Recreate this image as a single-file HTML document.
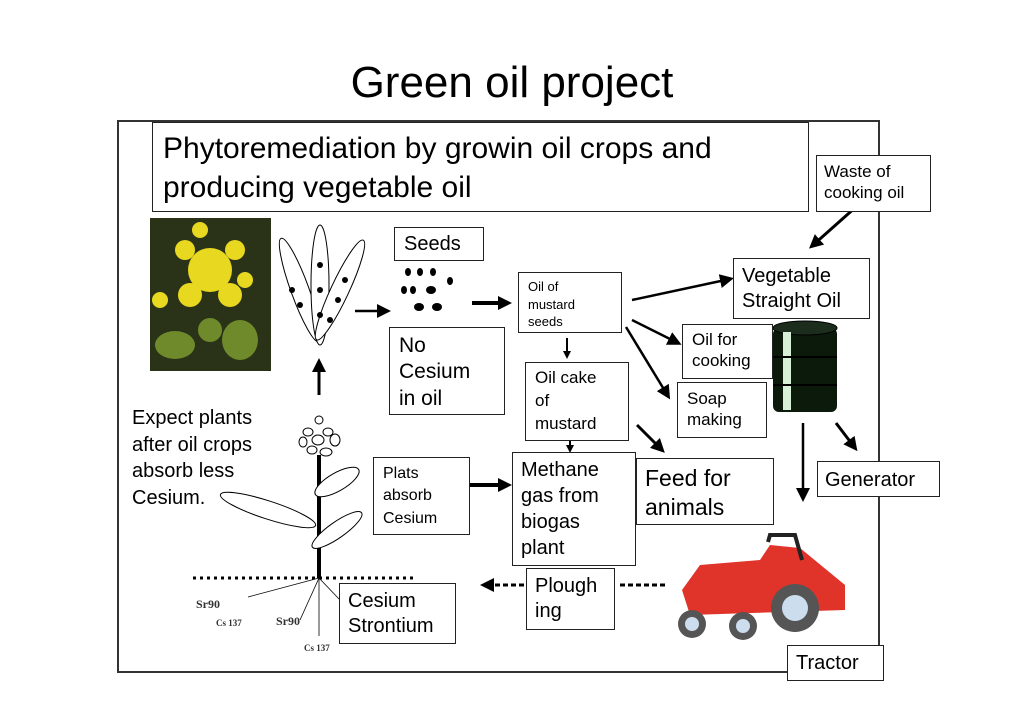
<!DOCTYPE html>
<html><head><meta charset="utf-8"><style>
body{margin:0;width:1024px;height:724px;background:#fff;position:relative;overflow:hidden;font-family:"Liberation Sans",Arial,sans-serif;color:#000}
.b{position:absolute;border:1.5px solid #222;background:#fff;box-sizing:border-box;line-height:1.25}
.t{position:absolute;white-space:nowrap}
</style></head><body>
<div class="t" style="left:0;width:1024px;text-align:center;top:58px;font-size:44px">Green oil project</div>
<div style="position:absolute;left:117px;top:120px;width:763px;height:553px;border:2px solid #333;box-sizing:border-box"></div>
<svg width="1024" height="724" style="position:absolute;left:0;top:0">
<defs><marker id="a" markerWidth="8" markerHeight="8" refX="6" refY="4" orient="auto" markerUnits="userSpaceOnUse"><path d="M0,0 L8,4 L0,8z" fill="#000"/></marker>
<marker id="a2" markerWidth="14" markerHeight="14" refX="10" refY="7" orient="auto" markerUnits="userSpaceOnUse"><path d="M0,0 L14,7 L0,14z" fill="#000"/></marker></defs>
<!-- photo -->
<rect x="150" y="218" width="121" height="153" fill="#2a3318"/>
<g fill="#e8d820"><circle cx="210" cy="270" r="22"/><circle cx="185" cy="250" r="10"/><circle cx="235" cy="250" r="10"/><circle cx="190" cy="295" r="12"/><circle cx="230" cy="295" r="12"/><circle cx="160" cy="300" r="8"/><circle cx="200" cy="230" r="8"/><circle cx="245" cy="280" r="8"/></g>
<g fill="#6f8a2a"><ellipse cx="175" cy="345" rx="20" ry="14"/><ellipse cx="240" cy="340" rx="18" ry="20"/><ellipse cx="210" cy="330" rx="12" ry="12"/></g>
<!-- pods -->
<g fill="#fff" stroke="#000" stroke-width="1"><ellipse cx="300" cy="290" rx="9" ry="55" transform="rotate(-20 300 290)"/><ellipse cx="320" cy="285" rx="9" ry="60"/><ellipse cx="340" cy="290" rx="9" ry="55" transform="rotate(25 340 290)"/></g>
<g fill="#000"><circle cx="292" cy="290" r="3"/><circle cx="300" cy="305" r="3"/><circle cx="320" cy="265" r="3"/><circle cx="320" cy="290" r="3"/><circle cx="320" cy="315" r="3"/><circle cx="345" cy="280" r="3"/><circle cx="338" cy="300" r="3"/><circle cx="330" cy="320" r="3"/></g>
<line x1="355" y1="311" x2="387" y2="311" stroke="#000" stroke-width="2.5" marker-end="url(#a2)"/>
<g fill="#000"><ellipse cx="408" cy="272" rx="3" ry="4"/><ellipse cx="420" cy="272" rx="3" ry="4"/><ellipse cx="433" cy="272" rx="3" ry="4"/><ellipse cx="450" cy="281" rx="3" ry="4"/><ellipse cx="404" cy="290" rx="3" ry="4"/><ellipse cx="413" cy="290" rx="3" ry="4"/><ellipse cx="431" cy="290" rx="5" ry="4"/><ellipse cx="419" cy="307" rx="5" ry="4"/><ellipse cx="437" cy="307" rx="5" ry="4"/></g>
<line x1="472" y1="303" x2="508" y2="303" stroke="#000" stroke-width="4" marker-end="url(#a2)"/>
<!-- plant -->
<line x1="319" y1="395" x2="319" y2="362" stroke="#000" stroke-width="3" marker-end="url(#a2)"/>
<g fill="#fff" stroke="#000"><circle cx="319" cy="420" r="4"/><ellipse cx="308" cy="432" rx="5" ry="4"/><ellipse cx="328" cy="432" rx="5" ry="4"/><ellipse cx="318" cy="440" rx="6" ry="5"/><ellipse cx="335" cy="440" rx="5" ry="6"/><ellipse cx="303" cy="442" rx="4" ry="5"/><ellipse cx="312" cy="450" rx="5" ry="4"/><ellipse cx="326" cy="452" rx="6" ry="4"/></g>
<line x1="319" y1="455" x2="319" y2="578" stroke="#000" stroke-width="4"/>
<g fill="#fff" stroke="#000"><ellipse cx="337" cy="482" rx="25" ry="9" transform="rotate(-30 337 482)"/><ellipse cx="268" cy="510" rx="50" ry="9" transform="rotate(18 268 510)"/><ellipse cx="337" cy="530" rx="30" ry="8" transform="rotate(-35 337 530)"/></g>
<line x1="193" y1="578" x2="414" y2="578" stroke="#000" stroke-width="3" stroke-dasharray="3,4"/>
<g stroke="#000" stroke-width="0.8"><line x1="319" y1="578" x2="248" y2="597"/><line x1="319" y1="578" x2="300" y2="620"/><line x1="319" y1="578" x2="319" y2="636"/><line x1="319" y1="578" x2="340" y2="600"/></g>
<g font-family="Liberation Serif,serif" font-weight="bold" fill="#333"><text x="196" y="608" font-size="12">Sr90</text><text x="216" y="626" font-size="9">Cs 137</text><text x="276" y="625" font-size="12">Sr90</text><text x="304" y="651" font-size="9">Cs 137</text></g>
<line x1="470" y1="485" x2="508" y2="485" stroke="#000" stroke-width="4" marker-end="url(#a2)"/>
<!-- right side arrows -->
<line x1="567" y1="338" x2="567" y2="357" stroke="#000" stroke-width="2" marker-end="url(#a)"/>
<line x1="570" y1="441" x2="570" y2="451" stroke="#000" stroke-width="2" marker-end="url(#a)"/>
<line x1="632" y1="300" x2="730" y2="279" stroke="#000" stroke-width="2.5" marker-end="url(#a2)"/>
<line x1="632" y1="320" x2="678" y2="343" stroke="#000" stroke-width="2.5" marker-end="url(#a2)"/>
<line x1="626" y1="327" x2="668" y2="396" stroke="#000" stroke-width="2.5" marker-end="url(#a2)"/>
<line x1="637" y1="425" x2="662" y2="450" stroke="#000" stroke-width="3" marker-end="url(#a2)"/>
<line x1="875" y1="190" x2="812" y2="246" stroke="#000" stroke-width="3" marker-end="url(#a2)"/>
<line x1="803" y1="423" x2="803" y2="498" stroke="#000" stroke-width="2.5" marker-end="url(#a2)"/>
<line x1="836" y1="423" x2="855" y2="448" stroke="#000" stroke-width="3" marker-end="url(#a2)"/>
<line x1="665" y1="585" x2="618" y2="585" stroke="#000" stroke-width="3" stroke-dasharray="5,3"/>
<line x1="524" y1="585" x2="484" y2="585" stroke="#000" stroke-width="3" stroke-dasharray="5,3" marker-end="url(#a2)"/>
<!-- barrel -->
<rect x="773" y="328" width="64" height="84" rx="6" fill="#0c1a0c"/>
<ellipse cx="805" cy="328" rx="32" ry="7" fill="#1d2d1d" stroke="#000"/>
<rect x="783" y="332" width="8" height="78" fill="#d8f0d8"/>
<g stroke="#000" stroke-width="2"><line x1="773" y1="357" x2="837" y2="357"/><line x1="773" y1="385" x2="837" y2="385"/></g>
<!-- tractor -->
<path d="M682,590 L700,565 L760,560 L770,545 L800,548 L845,585 L845,610 L690,615z" fill="#e0342a"/>
<path d="M768,542 L770,535 L795,535 L802,560" fill="none" stroke="#222" stroke-width="4"/>
<circle cx="795" cy="608" r="24" fill="#555"/><circle cx="795" cy="608" r="13" fill="#cde"/>
<circle cx="692" cy="624" r="14" fill="#555"/><circle cx="692" cy="624" r="7" fill="#cde"/>
<circle cx="743" cy="626" r="14" fill="#555"/><circle cx="743" cy="626" r="7" fill="#cde"/>
</svg>
<div class="b" style="left:152px;top:122px;width:657px;height:90px;font-size:30px;padding:6px 10px;line-height:1.3">Phytoremediation by growin oil crops and producing vegetable oil</div>
<div class="b" style="left:816px;top:155px;width:115px;height:57px;font-size:17px;padding:5px 7px">Waste of cooking oil</div>
<div class="b" style="left:394px;top:227px;width:90px;height:34px;font-size:20px;padding:4px 9px">Seeds</div>
<div class="b" style="left:389px;top:327px;width:116px;height:88px;font-size:21px;padding:5px 9px">No<br>Cesium<br>in oil</div>
<div class="b" style="left:518px;top:272px;width:104px;height:61px;font-size:13px;padding:5px 9px;line-height:1.35">Oil of<br>mustard<br>seeds</div>
<div class="b" style="left:733px;top:258px;width:137px;height:61px;font-size:20px;padding:5px 8px">Vegetable<br>Straight Oil</div>
<div class="b" style="left:682px;top:324px;width:91px;height:55px;font-size:17px;padding:4px 9px">Oil for<br>cooking</div>
<div class="b" style="left:677px;top:382px;width:90px;height:56px;font-size:17px;padding:5px 9px">Soap<br>making</div>
<div class="b" style="left:525px;top:362px;width:104px;height:79px;font-size:17px;padding:4px 9px;line-height:1.35">Oil cake<br>of<br>mustard</div>
<div class="b" style="left:636px;top:458px;width:138px;height:67px;font-size:23px;padding:5px 8px">Feed for<br>animals</div>
<div class="b" style="left:512px;top:452px;width:124px;height:114px;font-size:20px;padding:4px 8px;line-height:1.3">Methane<br>gas from<br>biogas<br>plant</div>
<div class="b" style="left:817px;top:461px;width:123px;height:36px;font-size:20px;padding:6px 7px">Generator</div>
<div class="b" style="left:373px;top:457px;width:97px;height:78px;font-size:16px;padding:5px 9px;line-height:1.4">Plats<br>absorb<br>Cesium</div>
<div class="b" style="left:339px;top:583px;width:117px;height:61px;font-size:20px;padding:5px 8px">Cesium<br>Strontium</div>
<div class="b" style="left:526px;top:568px;width:89px;height:62px;font-size:20px;padding:5px 8px">Plough<br>ing</div>
<div class="b" style="left:787px;top:645px;width:97px;height:36px;font-size:20px;padding:5px 8px">Tractor</div>
<div class="t" style="left:132px;top:405px;font-size:20px;line-height:26.5px">Expect plants<br>after oil crops<br>absorb less<br>Cesium.</div>
</body></html>
